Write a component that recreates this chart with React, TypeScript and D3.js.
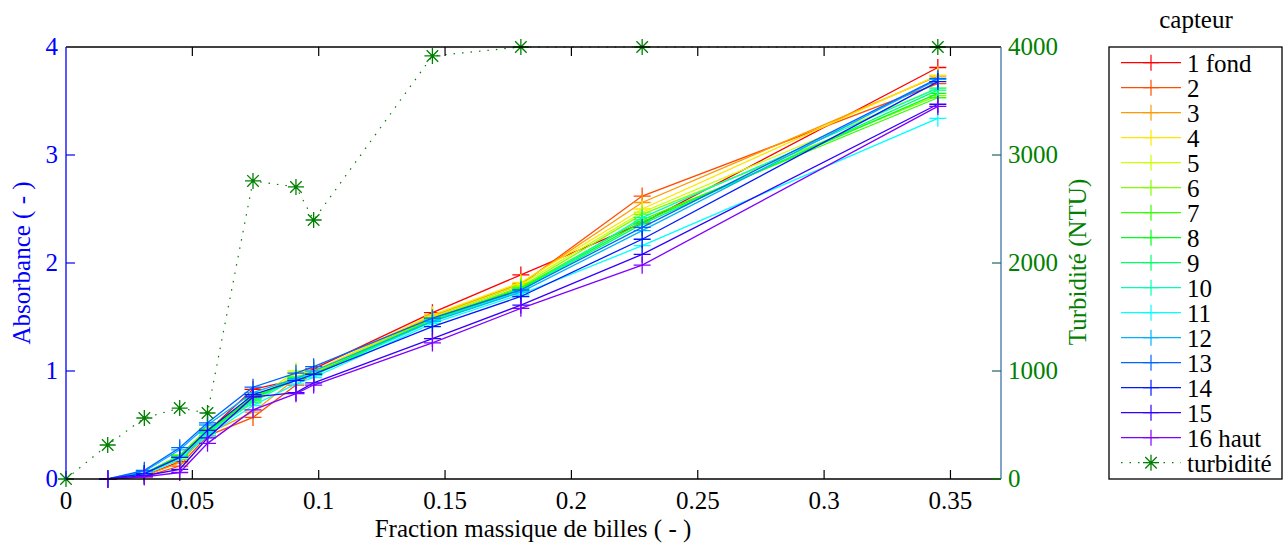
import React from "react";
import * as d3 from "d3";

const xValues = [0.0165, 0.031, 0.045, 0.056, 0.074, 0.091, 0.098, 0.145, 0.18, 0.228, 0.345];
const turbX = [0, 0.0165, 0.031, 0.045, 0.056, 0.074, 0.091, 0.098, 0.145, 0.18, 0.228, 0.345];
const turbidity = [0, 315, 565, 657, 611, 2760, 2704, 2398, 3917, 4000, 4000, 4000];

const s1 = [0, 0.03, 0.16, 0.44, 0.83, 0.92, 1.02, 1.54, 1.89, 2.37, 3.81];
const s2 = [0, 0.02, 0.12, 0.40, 0.57, 0.87, 0.98, 1.50, 1.80, 2.62, 3.66];
const s3 = [0, 0.03, 0.15, 0.42, 0.62, 0.93, 0.99, 1.51, 1.81, 2.56, 3.73];
const s4 = [0, 0.04, 0.19, 0.45, 0.70, 0.98, 1.00, 1.52, 1.82, 2.50, 3.74];
const s5 = [0, 0.05, 0.21, 0.47, 0.72, 1.00, 0.99, 1.50, 1.80, 2.47, 3.62];
const s6 = [0, 0.05, 0.22, 0.46, 0.74, 0.95, 0.98, 1.49, 1.78, 2.45, 3.55];
const s7 = [0, 0.05, 0.22, 0.45, 0.76, 0.93, 0.97, 1.48, 1.77, 2.40, 3.53];
const s8 = [0, 0.05, 0.21, 0.44, 0.75, 0.92, 0.97, 1.47, 1.76, 2.38, 3.57];
const s9 = [0, 0.05, 0.20, 0.43, 0.73, 0.94, 0.96, 1.47, 1.75, 2.36, 3.60];
const s10 = [0, 0.05, 0.20, 0.42, 0.71, 0.93, 0.96, 1.46, 1.74, 2.42, 3.62];
const s11 = [0, 0.04, 0.18, 0.40, 0.68, 0.88, 0.94, 1.44, 1.71, 2.16, 3.34];
const s12 = [0, 0.07, 0.27, 0.50, 0.80, 0.93, 1.00, 1.46, 1.73, 2.30, 3.70];
const s13 = [0, 0.08, 0.29, 0.52, 0.85, 0.98, 1.04, 1.49, 1.75, 2.33, 3.71];
const s14 = [0, 0.05, 0.20, 0.45, 0.78, 0.91, 0.97, 1.41, 1.69, 2.22, 3.68];
const s15 = [0, 0.03, 0.09, 0.38, 0.76, 0.80, 0.89, 1.30, 1.61, 2.08, 3.47];
const s16 = [0, 0.02, 0.06, 0.33, 0.64, 0.79, 0.87, 1.26, 1.58, 1.98, 3.45];

const seriesValues = [s1, s2, s3, s4, s5, s6, s7, s8, s9, s10, s11, s12, s13, s14, s15, s16];
const seriesNames = ["1 fond", "2", "3", "4", "5", "6", "7", "8", "9", "10", "11", "12", "13", "14", "15", "16 haut"];
const seriesHues = [0, 18, 36, 54, 72, 90, 108, 126, 144, 162, 180, 198, 216, 234, 252, 270];

const xTicks = [0, 0.05, 0.1, 0.15, 0.2, 0.25, 0.3, 0.35];
const xTickLabels = ["0", "0.05", "0.1", "0.15", "0.2", "0.25", "0.3", "0.35"];
const yTicks = [0, 1, 2, 3, 4];
const y2Ticks = [0, 1000, 2000, 3000, 4000];

const FONT = '"Liberation Serif", "Times New Roman", serif';
const BLUE = "#0000ff";
const GREEN = "#008000";

const x = d3.scaleLinear().domain([0, 0.37]).range([66, 1001]);
const y = d3.scaleLinear().domain([0, 4]).range([479, 47]);
const y2 = d3.scaleLinear().domain([0, 4000]).range([479, 47]);

const crossPath = (cx: number, cy: number, r: number) =>
  `M${cx - r},${cy}H${cx + r}M${cx},${cy - r}V${cy + r}`;
const starPath = (cx: number, cy: number, r: number) => {
  const d = r * 0.72;
  return `${crossPath(cx, cy, r)}M${cx - d},${cy - d}L${cx + d},${cy + d}M${cx - d},${cy + d}L${cx + d},${cy - d}`;
};

const T = (props: any) => (
  <text {...props} style={{ fontFamily: FONT, fontSize: 25 }}>
    {props.children}
  </text>
);

export default function App() {
  const line = d3
    .line<number>()
    .x((_, i) => x(xValues[i]))
    .y((v) => y(v));
  const turbLine = d3
    .line<number>()
    .x((_, i) => x(turbX[i]))
    .y((v) => y2(v));

  const [xl, xr] = x.range();
  const [yb, yt] = y.range();
  const tickLen = 9;

  const legX0 = 1109;
  const legX1 = 1282;
  const legY0 = 47;
  const legY1 = 479;
  const rowY = (i: number) => 62.7 + i * 25;

  return (
    <svg
      width={1287}
      height={545}
      style={{ position: "absolute", left: 0, top: 0, background: "#fff", fontFamily: FONT }}
    >
      <rect x={0} y={0} width={1287} height={545} fill="#fff" />

      {seriesValues.map((vals, si) => {
        const col = `hsl(${seriesHues[si]},100%,50%)`;
        return (
          <g key={si} stroke={col} fill="none" strokeWidth={1.3}>
            <path d={line(vals) || ""} />
            {vals.map((v, i) => (
              <path key={i} d={crossPath(x(xValues[i]), y(v), 8.5)} />
            ))}
          </g>
        );
      })}

      <g stroke={GREEN} fill="none">
        <path d={turbLine(turbidity) || ""} strokeWidth={1.2} strokeDasharray="1.5,7" />
        {turbidity.map((v, i) => (
          <path key={i} d={starPath(x(turbX[i]), y2(v), 8)} strokeWidth={1.3} />
        ))}
      </g>

      <line x1={xl} x2={xr} y1={yb} y2={yb} stroke="#000" strokeWidth={1.3} />
      <line x1={xl} x2={xr} y1={yt} y2={yt} stroke="#000" strokeWidth={1.3} />
      <line x1={xl} x2={xl} y1={yb} y2={yt} stroke={BLUE} strokeWidth={1.3} />
      <line x1={xr} x2={xr} y1={yb} y2={yt} stroke="#3f73a8" strokeWidth={1.3} />

      {xTicks.map((t, i) => (
        <g key={i}>
          {i > 0 && (
            <>
              <line x1={x(t)} x2={x(t)} y1={yb} y2={yb - tickLen} stroke="#000" strokeWidth={1.2} />
              <line x1={x(t)} x2={x(t)} y1={yt} y2={yt + tickLen} stroke="#000" strokeWidth={1.2} />
            </>
          )}
          <T x={x(t)} y={509} textAnchor="middle" fill="#000">
            {xTickLabels[i]}
          </T>
        </g>
      ))}

      {yTicks.map((t, i) => (
        <g key={i}>
          {i > 0 && i < yTicks.length - 1 && (
            <line x1={xl} x2={xl + tickLen} y1={y(t)} y2={y(t)} stroke={BLUE} strokeWidth={1.2} />
          )}
          <T x={58} y={y(t) + 8.4} textAnchor="end" fill={BLUE}>
            {String(t)}
          </T>
        </g>
      ))}

      {y2Ticks.map((t, i) => (
        <g key={i}>
          {i < y2Ticks.length - 1 && (
            <line x1={xr} x2={xr - tickLen} y1={y2(t)} y2={y2(t)} stroke={i === 0 ? GREEN : "#1f6464"} strokeWidth={1.2} />
          )}
          <T x={1008} y={y2(t) + 8.4} textAnchor="start" fill={GREEN}>
            {String(t)}
          </T>
        </g>
      ))}

      <T x={533} y={537} textAnchor="middle" fill="#000">
        Fraction massique de billes ( - )
      </T>
      <T transform="translate(30,263) rotate(-90)" textAnchor="middle" fill={BLUE}>
        Absorbance ( - )
      </T>
      <T transform="translate(1086,262) rotate(-90)" textAnchor="middle" fill={GREEN}>
        Turbidité (NTU)
      </T>

      <T x={1196} y={27.5} textAnchor="middle" fill="#000">
        capteur
      </T>
      <rect x={legX0} y={legY0} width={legX1 - legX0} height={legY1 - legY0} fill="#fff" stroke="#000" strokeWidth={1.3} />
      {seriesNames.map((name, i) => {
        const col = `hsl(${seriesHues[i]},100%,50%)`;
        const ry = rowY(i);
        return (
          <g key={i}>
            <line x1={1121} x2={1181} y1={ry} y2={ry} stroke={col} strokeWidth={1.2} />
            <path d={crossPath(1151, ry, 8)} stroke={col} strokeWidth={1.2} fill="none" />
            <T x={1187} y={ry + 9} fill="#000">
              {name}
            </T>
          </g>
        );
      })}
      <g>
        <line x1={1121} x2={1181} y1={rowY(16)} y2={rowY(16)} stroke={GREEN} strokeWidth={1.2} strokeDasharray="1.5,7" />
        <path d={starPath(1151, rowY(16), 8)} stroke={GREEN} strokeWidth={1.3} fill="none" />
        <T x={1187} y={rowY(16) + 9} fill="#000">
          turbidité
        </T>
      </g>
    </svg>
  );
}
